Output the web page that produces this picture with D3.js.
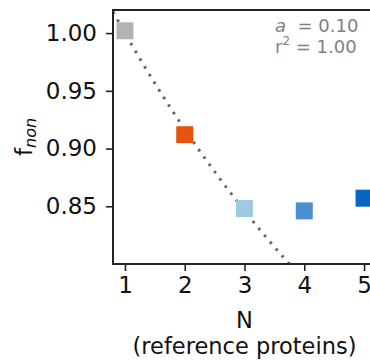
<!DOCTYPE html>
<html>
<head>
<meta charset="utf-8">
<script src="https://cdn.jsdelivr.net/npm/d3@7/dist/d3.min.js"></script>
<style>
  html, body { margin: 0; padding: 0; background: #fff; }
  svg { display: block; font-family: "DejaVu Sans", sans-serif; }
</style>
</head>
<body>
<svg id="chart" width="370" height="360"></svg>
<script>
// Fraction of non-redundant hits versus number of reference proteins
const nValues = [1, 2, 3, 4, 5];
const fNon = [1.002, 0.912, 0.848, 0.846, 0.857];
const pointColors = ["#b3b3b3", "#e6550d", "#9ecae1", "#4a8fd0", "#0866c2"];
const xTicks = [1, 2, 3, 4, 5];
const yTicks = [0.85, 0.90, 0.95, 1.00];

// Saturation fit parameter and goodness of fit
const fitA = 0.10;
const fitR2 = 1.00;

const svg = d3.select("#chart");
const plotLeft = 113, plotRight = 376, plotTop = 10, plotBottom = 264;
const fontSize = 23;

const x = d3.scaleLinear().domain([0.8, 5.2]).range([plotLeft, plotRight]);
const y = d3.scaleLinear().domain([0.80, 1.02]).range([plotBottom, plotTop]);

svg.append("defs").append("clipPath").attr("id", "plot-clip")
  .append("rect").attr("x", plotLeft).attr("y", plotTop)
  .attr("width", plotRight - plotLeft).attr("height", plotBottom - plotTop);

// Fitted curve f(N) = (1 + a) / (1 + a N)
const fitN = d3.range(0.8, 5.2001, 0.02);
const fitLine = d3.line()
  .x(n => x(n))
  .y(n => y((1 + fitA) / (1 + fitA * n)));

svg.append("path")
  .datum(fitN)
  .attr("clip-path", "url(#plot-clip)")
  .attr("d", fitLine)
  .attr("fill", "none")
  .attr("stroke", "#666")
  .attr("stroke-width", 3)
  .attr("stroke-dasharray", "2.6 6.4");

// Square markers
const size = 17;
svg.append("g").selectAll("rect")
  .data(nValues)
  .join("rect")
  .attr("x", (d) => x(d) - size / 2)
  .attr("y", (d, i) => y(fNon[i]) - size / 2)
  .attr("width", size)
  .attr("height", size)
  .attr("fill", (d, i) => pointColors[i]);

// Axes
const xAxis = d3.axisBottom(x).tickValues(xTicks).tickFormat(d3.format("d"))
  .tickSize(7).tickPadding(6);
const yAxis = d3.axisLeft(y).tickValues(yTicks).tickFormat(d3.format(".2f"))
  .tickSize(7).tickPadding(9);

const gx = svg.append("g").attr("transform", `translate(0,${plotBottom})`).call(xAxis);
const gy = svg.append("g").attr("transform", `translate(${plotLeft},0)`).call(yAxis);

[gx, gy].forEach(g => {
  g.select(".domain").remove();
  g.selectAll(".tick line").attr("stroke", "#222").attr("stroke-width", 1.6);
  g.selectAll(".tick text")
    .attr("fill", "#111")
    .attr("font-size", fontSize)
    .attr("font-family", "DejaVu Sans, sans-serif");
});

// Frame
svg.append("rect")
  .attr("x", plotLeft).attr("y", plotTop)
  .attr("width", plotRight - plotLeft).attr("height", plotBottom - plotTop)
  .attr("fill", "none").attr("stroke", "#222").attr("stroke-width", 2);

// Two-line x-axis label
const xMid = (plotLeft + plotRight) / 2;
const labelSize = 22.5;
svg.append("text")
  .attr("x", xMid).attr("y", 328)
  .attr("text-anchor", "middle")
  .attr("font-size", labelSize).attr("fill", "#111")
  .text("N");
svg.append("text")
  .attr("x", xMid).attr("y", 354)
  .attr("text-anchor", "middle")
  .attr("font-size", labelSize).attr("fill", "#111")
  .text("(reference proteins)");

const yLab = svg.append("text")
  .attr("transform", `translate(32,${(plotTop + plotBottom) / 2}) rotate(-90)`)
  .attr("text-anchor", "middle")
  .attr("font-size", fontSize).attr("fill", "#111");
yLab.append("tspan").text("f");
yLab.append("tspan")
  .attr("font-size", 16)
  .attr("font-style", "italic")
  .attr("dy", 4)
  .text("non");

// Fit annotation
const ann = svg.append("g").attr("fill", "#808080").attr("font-size", 18);
const a1 = ann.append("text").attr("x", 275).attr("y", 32);
a1.append("tspan").attr("font-style", "italic").text("a");
a1.append("tspan").text("\u00a0 = " + fitA.toFixed(2));
const a2 = ann.append("text").attr("x", 275).attr("y", 53);
a2.append("tspan").text("r");
a2.append("tspan").attr("font-size", 12).attr("dy", -8).text("2");
a2.append("tspan").attr("dy", 8).text(" = " + fitR2.toFixed(2));
</script>
</body>
</html>
